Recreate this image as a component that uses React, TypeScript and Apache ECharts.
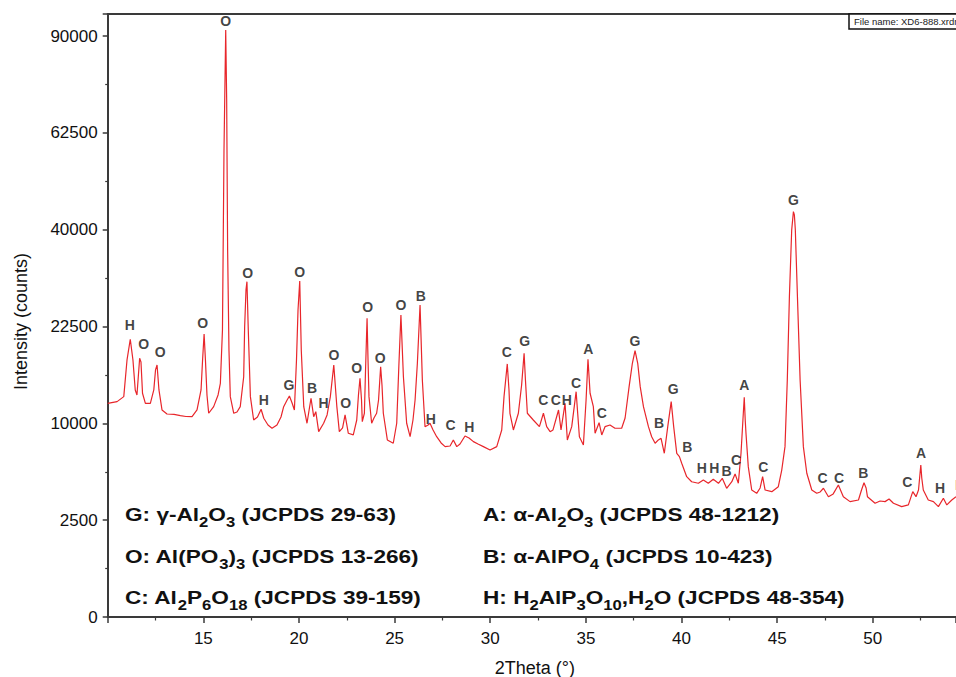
import React, { useEffect, useRef } from "react";
import * as echarts from "echarts";

// 2Theta (degrees) and intensity (counts)
const theta = [
  10.0, 10.49, 10.84, 11.01, 11.18, 11.32, 11.44, 11.53, 11.67, 11.74, 11.82, 11.97, 12.23, 12.41, 12.5, 12.58, 12.68, 12.84,
  13.1, 13.47, 13.8, 14.09, 14.41, 14.67, 14.88, 14.96, 15.04, 15.11, 15.19, 15.28, 15.54, 15.77, 15.89, 16.0, 16.08, 16.17,
  16.22, 16.27, 16.34, 16.41, 16.59, 16.76, 16.93, 17.11, 17.16, 17.23, 17.28, 17.35, 17.46, 17.63, 17.83, 18.02, 18.16,
  18.38, 18.59, 18.85, 19.06, 19.2, 19.38, 19.5, 19.64, 19.76, 19.87, 19.95, 20.04, 20.12, 20.25, 20.42, 20.53, 20.63,
  20.77, 20.88, 21.03, 21.29, 21.47, 21.64, 21.82, 21.98, 22.11, 22.28, 22.41, 22.58, 22.84, 23.02, 23.11, 23.19, 23.27,
  23.31, 23.42, 23.48, 23.56, 23.61, 23.66, 23.8, 23.92, 24.06, 24.16, 24.27, 24.34, 24.41, 24.62, 24.93, 25.11, 25.22,
  25.33, 25.46, 25.63, 25.81, 25.96, 26.07, 26.19, 26.33, 26.45, 26.59, 26.75, 26.85, 27.01, 27.2, 27.43, 27.64, 27.9,
  28.07, 28.25, 28.42, 28.68, 28.89, 29.12, 29.36, 29.64, 29.99, 30.34, 30.6, 30.72, 30.89, 30.98, 31.03, 31.21, 31.47,
  31.64, 31.77, 31.84, 31.94, 32.25, 32.57, 32.78, 32.95, 33.13, 33.28, 33.57, 33.7, 33.91, 34.03, 34.26, 34.49, 34.66,
  34.87, 35.01, 35.11, 35.22, 35.39, 35.48, 35.69, 35.83, 36.0, 36.26, 36.52, 36.87, 37.05, 37.26, 37.43, 37.57, 37.71,
  37.84, 38.01, 38.27, 38.44, 38.62, 38.79, 38.93, 39.1, 39.28, 39.46, 39.59, 39.75, 39.89, 40.01, 40.27, 40.53, 40.88,
  41.14, 41.4, 41.66, 41.93, 42.13, 42.36, 42.63, 42.8, 42.97, 43.11, 43.21, 43.28, 43.33, 43.37, 43.49, 43.67, 43.93,
  44.11, 44.24, 44.37, 44.72, 45.06, 45.24, 45.41, 45.53, 45.64, 45.76, 45.85, 45.9, 45.95, 46.06, 46.2, 46.37, 46.55,
  46.81, 47.07, 47.25, 47.42, 47.68, 47.93, 48.2, 48.46, 48.81, 49.25, 49.41, 49.54, 49.65, 49.72, 50.12, 50.38, 50.64,
  50.85, 51.08, 51.51, 51.86, 52.09, 52.26, 52.39, 52.51, 52.56, 52.64, 52.9, 53.17, 53.43, 53.69, 53.87, 54.13, 54.35,
];
const intensity = [
  12180, 12370, 12950, 17620, 20570, 17620, 13750, 13150, 17850, 17350, 13350, 12180, 12180, 13750, 16280, 16940, 13750, 11430,
  10990, 10940, 10810, 10720, 10700, 11430, 13750, 17620, 21370, 17620, 13150, 11070, 11800, 13150, 14570, 21980, 58180, 91920,
  71300, 35930, 19020, 12950, 11070, 11210, 11800, 15400, 22480, 28530, 29990, 21980, 12950, 10350, 10670, 11510, 10530,
  9830, 9500, 9830, 10670, 11800, 12560, 13030, 12220, 11430, 17620, 25140, 30120, 19020, 11800, 10010, 11430, 12760,
  10700, 11240, 9160, 10010, 10890, 12950, 16940, 11800, 9160, 9530, 10890, 9000, 8840, 10350, 13150, 15200, 12560,
  10180, 11070, 16280, 23800, 17620, 12950, 10010, 10560, 11070, 12560, 16710, 14360, 11070, 8360, 8050, 10010, 16710,
  24330, 15400, 10010, 8670, 10350, 12560, 17170, 25970, 14980, 9660, 9830, 10010, 9330, 8670, 8080, 7740, 7800,
  8360, 7740, 7980, 8740, 8550, 8200, 7980, 7740, 7440, 7740, 9330, 12950, 17080, 13750, 11070, 9330, 11070,
  14360, 18550, 14980, 11070, 10350, 9660, 11070, 9660, 9160, 9330, 11430, 9330, 12180, 8360, 9660, 13540, 8670,
  7890, 12560, 17720, 13350, 11800, 9000, 10070, 8840, 9660, 9830, 9500, 9500, 10560, 14150, 17170, 18920, 17170,
  14150, 11800, 9660, 8670, 8050, 8360, 8520, 7150, 9660, 12370, 9660, 7150, 6860, 6300, 5250, 4880, 4770,
  5010, 4770, 5060, 4770, 5130, 4420, 4880, 5460, 4770, 7150, 10350, 12880, 10350, 9000, 6030, 4300, 4080,
  4440, 5250, 4300, 4190, 4530, 5760, 7740, 14980, 27370, 39960, 43820, 43110, 39960, 27370, 14980, 7740, 5510,
  4300, 4080, 4170, 4420, 3860, 4040, 4650, 3860, 3550, 3650, 4300, 4810, 4440, 3860, 3450, 3590, 3550,
  3710, 3450, 3250, 3350, 4190, 3860, 4300, 6160, 5150, 4300, 3650, 3550, 3250, 3760, 3350, 3650, 3860,
];

// Phase letters placed above peaks (2Theta, intensity at the letter's centre)
const peakLetters = [
  "H", "O", "O", "O", "O", "O", "H", "G", "O", "B", "H", "O", "O", "O", "O", "O", "O", "B", "H", "C", "H",
  "C", "G", "C", "C", "H", "C", "A", "C", "G", "B", "G", "B", "H", "H", "B", "C", "A", "C", "G", "C", "C",
  "B", "C", "A", "H", "H",
];
const peakTheta = [
  11.15, 11.88, 12.75, 14.97, 16.17, 17.32, 18.16, 19.48, 20.04, 20.68, 21.29, 21.83, 22.44, 23.02, 23.59, 24.24, 25.33,
  26.37, 26.89, 27.93, 28.91, 30.86, 31.8, 32.78, 33.43, 34.0, 34.49, 35.13, 35.83, 37.57, 38.82, 39.57, 40.3, 41.06,
  41.72, 42.36, 42.85, 43.28, 44.28, 45.85, 47.38, 48.24, 49.51, 51.81, 52.52, 53.52, 54.56,
];
const peakIntensity = [
  22750, 19880, 18780, 23110, 94760, 31510, 12560, 14360, 31700, 13950, 12250, 18310, 12180, 16500, 25590, 17850, 25970,
  27490, 10430, 9830, 9660, 18780, 20370, 12530, 12530, 12560, 14650, 19120, 11070, 20370, 10010, 13830, 7740, 5900,
  5900, 5710, 6580, 14360, 6030, 46390, 5130, 5180, 5560, 4840, 7200, 4420, 4650,
];

const yTicks = [0, 2500, 10000, 22500, 40000, 62500, 90000];

const legendLines = [
  "{m|G: γ-Al}{s|2}{m|O}{s|3}{m| (JCPDS 29-63)}",
  "{m|O: Al(PO}{s|3}{m|)}{s|3}{m| (JCPDS 13-266)}",
  "{m|C: Al}{s|2}{m|P}{s|6}{m|O}{s|18}{m| (JCPDS 39-159)}",
  "{m|A: α-Al}{s|2}{m|O}{s|3}{m| (JCPDS 48-1212)}",
  "{m|B: α-AlPO}{s|4}{m| (JCPDS 10-423)}",
  "{m|H: H}{s|2}{m|AlP}{s|3}{m|O}{s|10}{m|,H}{s|2}{m|O (JCPDS 48-354)}",
];

const FONT = "'Liberation Sans', Arial, Helvetica, sans-serif";
const AXIS = "#3a3a3a";

export default function App() {
  const ref = useRef<HTMLDivElement>(null);
  useEffect(() => {
    if (!ref.current) return;
    const chart = echarts.init(ref.current, undefined, { renderer: "svg" });
    const sqrtMax = 311.4;
    const xMax = 54.35;
    const rich = {
      m: { fontSize: 19, fontWeight: "bold", fontFamily: FONT, fill: "#111", lineHeight: 22, verticalAlign: "top" },
      s: { fontSize: 14, fontWeight: "bold", fontFamily: FONT, fill: "#111", lineHeight: 16, padding: [10, 0, 0, 0], verticalAlign: "top" },
    };
    const legendPos = [
      [125, 505], [125, 547], [125, 588],
      [483, 505], [483, 547], [483, 588],
    ];
    chart.setOption({
      animation: false,
      backgroundColor: "#ffffff",
      grid: { left: 107.7, right: 0, top: 14, bottom: 60, containLabel: false, outerBoundsMode: "none" },
      xAxis: [
        {
          type: "value",
          min: 10,
          max: xMax,
          interval: 5,
          name: "2Theta (°)",
          nameLocation: "middle",
          nameGap: 42,
          nameTextStyle: { fontSize: 18, color: "#111", fontFamily: FONT, padding: [0, 0, 0, 6] },
          axisLine: { onZero: false, lineStyle: { color: AXIS, width: 2 } },
          axisTick: { length: 6, lineStyle: { color: AXIS, width: 1.5 } },
          minorTick: { show: true, splitNumber: 2, length: 3.5, lineStyle: { color: AXIS, width: 1.2 } },
          axisLabel: {
            fontSize: 17,
            color: "#111",
            fontFamily: FONT,
            margin: 13,
            formatter: (v: number) => (Math.abs(v % 5) < 1e-6 && v > 10 ? String(Math.round(v)) : ""),
          },
          splitLine: { show: false },
        },
        {
          type: "value",
          position: "top",
          min: 10,
          max: xMax,
          axisLine: { show: true, onZero: false, lineStyle: { color: AXIS, width: 2 } },
          axisTick: { show: false },
          axisLabel: { show: false },
          splitLine: { show: false },
        },
      ],
      yAxis: {
        type: "value",
        min: 0,
        max: sqrtMax,
        interval: 50,
        name: "Intensity (counts)",
        nameLocation: "middle",
        nameGap: 78,
        nameTextStyle: { fontSize: 18, color: "#111", fontFamily: FONT, padding: [0, 12, 0, 0] },
        axisLine: { show: true, onZero: false, lineStyle: { color: AXIS, width: 2 } },
        axisTick: { length: 5, lineStyle: { color: AXIS, width: 1.5 } },
        minorTick: { show: true, splitNumber: 2, length: 2.5, lineStyle: { color: AXIS, width: 1.2 } },
        axisLabel: {
          fontSize: 17,
          color: "#111",
          fontFamily: FONT,
          margin: 10,
          padding: [5, 0, 0, 0],
          formatter: (v: number) => {
            const r = Math.round(v);
            if (Math.abs(v - r) > 1e-6 || r % 50 !== 0) return "";
            const val = r * r;
            return yTicks.indexOf(val) >= 0 ? String(val) : "";
          },
        },
        splitLine: { show: false },
      },
      series: [
        {
          type: "line",
          data: theta.map((t, i) => [t, Math.sqrt(intensity[i])]),
          showSymbol: false,
          symbol: "none",
          lineStyle: { color: "#e8262b", width: 1.2 },
          z: 2,
        },
        {
          type: "scatter",
          data: peakTheta.map((t, i) => [t, Math.sqrt(peakIntensity[i])]),
          symbolSize: 0,
          clip: false,
          label: {
            show: true,
            position: "inside",
            formatter: (p: any) => peakLetters[p.dataIndex],
            fontSize: 14,
            fontWeight: "bold",
            fontFamily: FONT,
            color: "#111",
          },
          z: 5,
        },
      ],
      graphic: [
        ...legendLines.map((t, i) => ({
          type: "text",
          x: legendPos[i][0],
          y: legendPos[i][1],
          scaleX: 1.19,
          z: 10,
          style: { text: t, rich, verticalAlign: "top", align: "left" },
        })),
        {
          type: "rect",
          shape: { x: 849, y: 14, width: 130, height: 15 },
          style: { fill: "#fff", stroke: "#111", lineWidth: 1.5 },
          z: 10,
        },
        {
          type: "text",
          x: 854,
          y: 21.5,
          z: 11,
          style: { text: "File name: XD6-888.xrdml", fontSize: 9.5, fontFamily: FONT, fill: "#222", verticalAlign: "middle" },
        },
      ],
    });
    return () => chart.dispose();
  }, []);
  return (
    <div
      ref={ref}
      style={{ position: "fixed", left: 0, top: 0, width: 956, height: 677, background: "#fff" }}
    />
  );
}
